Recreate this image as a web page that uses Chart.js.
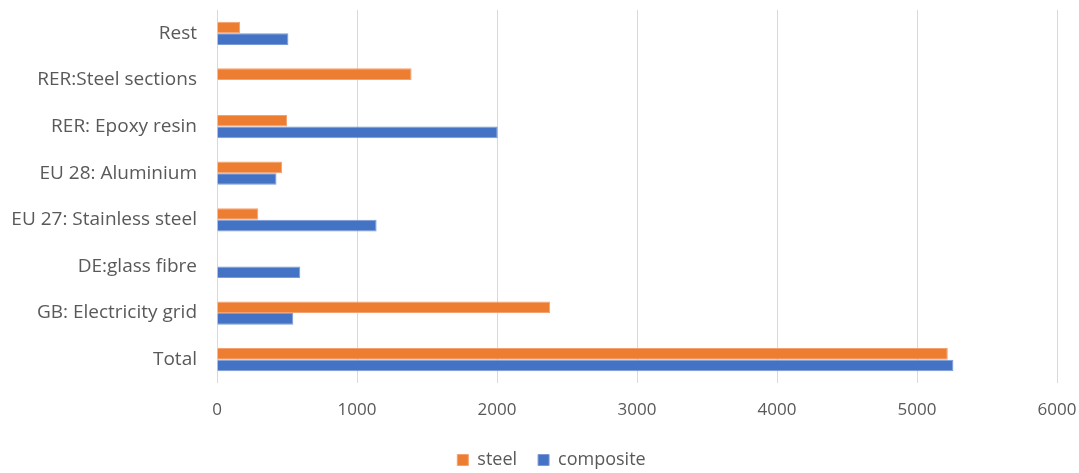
<!DOCTYPE html>
<html>
<head>
<meta charset="utf-8">
<script src="https://cdn.jsdelivr.net/npm/chart.js@4/dist/chart.umd.min.js"></script>
<style>
  html, body { margin: 0; padding: 0; background: #ffffff; }
  #wrap { width: 1079px; height: 473px; position: relative; }
</style>
</head>
<body>
<div id="wrap"><canvas id="chart"></canvas></div>
<script>
// Impact contributions per process, steel vs composite design
const categories = [
  'Rest',
  'RER:Steel sections',
  'RER: Epoxy resin',
  'EU 28: Aluminium',
  'EU 27: Stainless steel',
  'DE:glass fibre',
  'GB: Electricity grid',
  'Total'
];
const steelValues     = [165, 1390, 500, 465, 295, 0, 2380, 5220];
const compositeValues = [510, 0, 2005, 425, 1140, 595, 545, 5260];
const xTicks = [0, 1000, 2000, 3000, 4000, 5000, 6000];

const textColor = '#595959';
const fontFamily = '"Open Sans", "Noto Sans", sans-serif';

new Chart(document.getElementById('chart'), {
  type: 'bar',
  data: {
    labels: categories,
    datasets: [
      {
        label: 'steel',
        data: steelValues,
        backgroundColor: '#ED7D31',
        borderColor: '#F4A170',
        borderWidth: 1,
        categoryPercentage: 0.5,
        barPercentage: 1.0
      },
      {
        label: 'composite',
        data: compositeValues,
        backgroundColor: '#4472C4',
        borderColor: '#7A9BD6',
        borderWidth: 1,
        categoryPercentage: 0.5,
        barPercentage: 1.0
      }
    ]
  },
  options: {
    indexAxis: 'y',
    responsive: true,
    maintainAspectRatio: false,
    animation: false,
    // the legend spans a slightly wider box so it sits centred under the plot
    layout: { padding: { top: 10, right: -24, bottom: -6, left: 0 } },
    scales: {
      x: {
        min: 0,
        max: 6000,
        afterBuildTicks: (scale) => { scale.ticks = xTicks.map(v => ({ value: v })); },
        afterFit: (scale) => {
          scale.height = 47;
          scale.paddingLeft = 0;
          scale.paddingRight = 22;
        },
        grid: { color: '#d9d9d9', lineWidth: 1, drawTicks: false },
        border: { display: false },
        ticks: {
          color: textColor,
          padding: 17,
          font: { family: fontFamily, size: 17 },
          callback: (v) => String(v)
        }
      },
      y: {
        afterFit: (scale) => {
          scale.width = 217;
          scale.paddingTop = 0;
          scale.paddingBottom = 0;
        },
        grid: { display: false, drawTicks: false },
        border: { display: false },
        ticks: {
          color: textColor,
          padding: 20,
          font: { family: fontFamily, size: 19 }
        }
      }
    },
    plugins: {
      legend: {
        position: 'bottom',
        labels: {
          color: textColor,
          boxWidth: 11,
          boxHeight: 11,
          padding: 21,
          font: { family: fontFamily, size: 18 }
        }
      },
      tooltip: { enabled: false }
    }
  }
});
</script>
</body>
</html>
